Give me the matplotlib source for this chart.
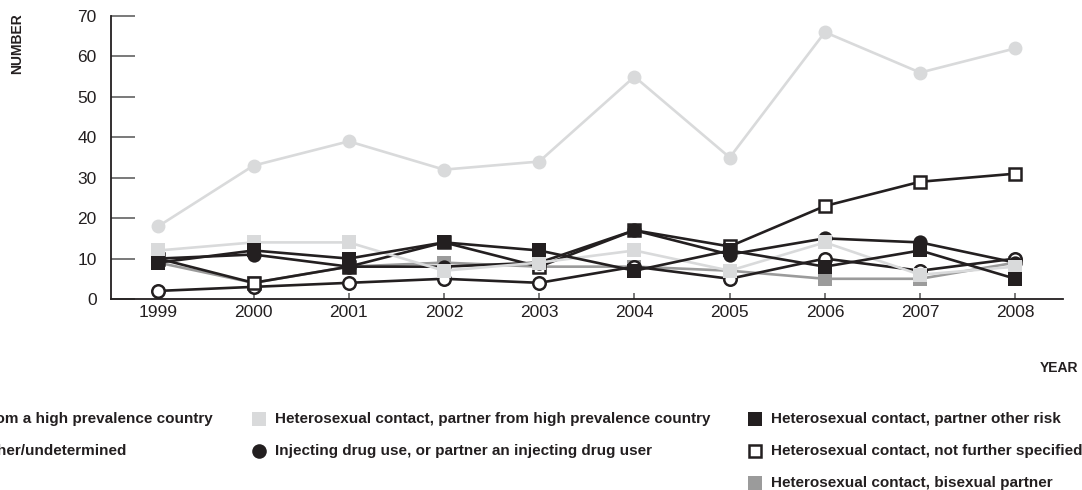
import matplotlib
matplotlib.use("Agg")
import matplotlib.pyplot as plt
from matplotlib.lines import Line2D

plt.rcParams['font.family'] = ['Liberation Sans', 'DejaVu Sans']

# ---- data -------------------------------------------------------------
years = [1999, 2000, 2001, 2002, 2003, 2004, 2005, 2006, 2007, 2008]
y_ticks = [0, 10, 20, 30, 40, 50, 60, 70]

person_high_prev = [18, 33, 39, 32, 34, 55, 35, 66, 56, 62]
partner_high_prev = [12, 14, 14, 7, 9, 12, 7, 14, 6, 8]
partner_other_risk = [9, 12, 10, 14, 12, 7, 12, 8, 12, 5]
not_specified = [10, 4, 8, 14, 8, 17, 13, 23, 29, 31]
other_undetermined = [2, 3, 4, 5, 4, 8, 5, 10, 7, 10]
injecting_drug_use = [10, 11, 8, 8, 9, 17, 11, 15, 14, 9]
bisexual_partner = [9, 4, 8, 9, 8, 8, 7, 5, 5, 9]

labels = {
    'person_high_prev': 'Heterosexual contact, person from a high prevalence country',
    'partner_high_prev': 'Heterosexual contact, partner from high prevalence country',
    'partner_other_risk': 'Heterosexual contact, partner other risk',
    'not_specified': 'Heterosexual contact, not further specified',
    'other_undetermined': 'Other/undetermined',
    'injecting_drug_use': 'Injecting drug use, or partner an injecting drug user',
    'bisexual_partner': 'Heterosexual contact, bisexual partner',
}

# ---- styles -----------------------------------------------------------
DARK = '#231f20'
LIGHT = '#d9dadb'
MID = '#9b9b9b'
W, H = 1082, 490

styles = {
    'person_high_prev': dict(color=LIGHT, marker='o', mfc=LIGHT, mec=LIGHT, ms=10, mew=0),
    'bisexual_partner': dict(color=MID, marker='s', mfc=MID, mec=MID, ms=10, mew=0),
    'other_undetermined': dict(color=DARK, marker='o', mfc='white', mec=DARK, ms=9, mew=1.8),
    'not_specified': dict(color=DARK, marker='s', mfc='white', mec=DARK, ms=9, mew=1.8),
    'injecting_drug_use': dict(color=DARK, marker='o', mfc=DARK, mec=DARK, ms=10.3, mew=0),
    'partner_high_prev': dict(color=LIGHT, marker='s', mfc=LIGHT, mec=LIGHT, ms=10.5, mew=0),
    'partner_other_risk': dict(color=DARK, marker='s', mfc=DARK, mec=DARK, ms=10.5, mew=0),
}
series = {
    'person_high_prev': person_high_prev,
    'bisexual_partner': bisexual_partner,
    'other_undetermined': other_undetermined,
    'not_specified': not_specified,
    'injecting_drug_use': injecting_drug_use,
    'partner_high_prev': partner_high_prev,
    'partner_other_risk': partner_other_risk,
}

fig = plt.figure(figsize=(W / 100, H / 100), dpi=100)
ax = fig.add_axes([110.7 / W, 1 - 299 / H, (1063 - 110.7) / W, (299 - 16) / H])

for i, (key, vals) in enumerate(series.items()):
    ax.plot(years, vals, lw=1.9, zorder=2 + i, clip_on=False, **styles[key])

ax.set_xlim(1998.5, 2008.5)
ax.set_ylim(0, 70)
ax.set_xticks(years)
ax.set_yticks(y_ticks)
for s in ('top', 'right'):
    ax.spines[s].set_visible(False)
for s in ('left', 'bottom'):
    ax.spines[s].set_color(DARK)
    ax.spines[s].set_linewidth(1.3)
ax.tick_params(axis='y', direction='in', length=17, width=1.1, color='#555555',
               labelsize=12.5, pad=10, labelcolor=DARK)
ax.tick_params(axis='x', direction='in', length=4.5, width=1.1, color='#555555',
               labelsize=12.5, pad=4, labelcolor=DARK)

# axis titles
fig.text(17 / W, 1 - 44 / H, 'NUMBER', rotation=90, ha='center', va='center',
         fontsize=10, fontweight='bold', color=DARK)
fig.text(1078 / W, 1 - 368 / H, 'YEAR', ha='right', va='center',
         fontsize=10, fontweight='bold', color=DARK)


# legend, built by hand in three columns
def fx(px):
    return px / W


def fy(py):
    return 1 - py / H


legend_texts = []


def legend_text(x, y, key, ha='left'):
    t = fig.text(fx(x), fy(y), labels[key], ha=ha, va='center', fontsize=11,
                 fontweight='bold', color=DARK)
    legend_texts.append(t)
    return t


def legend_item(key, mx, tx, ty):
    st = styles[key]
    fig.add_artist(Line2D([fx(mx)], [fy(ty)], transform=fig.transFigure, ls='none',
                          marker=st['marker'], mfc=st['mfc'], mec=st['mec'],
                          ms=10.5 if st['mew'] == 0 else 9, mew=st['mew']))
    return legend_text(tx, ty, key)


rows = [419, 451, 483]
# first column sits partly beyond the left edge
legend_text(213, rows[0], 'person_high_prev', ha='right')
legend_text(127, rows[1], 'other_undetermined', ha='right')

ref = legend_item('partner_high_prev', 259, 275, rows[0])
legend_item('injecting_drug_use', 259, 275, rows[1])
legend_item('partner_other_risk', 755, 771, rows[0])
legend_item('not_specified', 755, 771, rows[1])
legend_item('bisexual_partner', 755, 771, rows[2])

# size the legend type so a full line spans the column width
fig.canvas.draw()
width = ref.get_window_extent().width
size = 11 * 435 / width
for t in legend_texts:
    t.set_fontsize(size)

fig.savefig('out.png', dpi=100)
